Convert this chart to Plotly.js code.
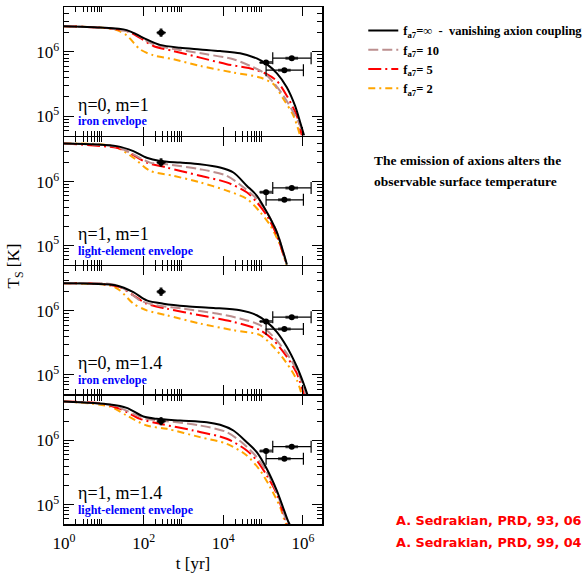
<!DOCTYPE html>
<html><head><meta charset="utf-8">
<script src="https://cdn.plot.ly/plotly-3.0.1.min.js"></script>
<style>html,body{margin:0;padding:0;background:#fff}#chart{width:585px;height:573px}</style>
</head><body><div id="chart"></div>
<script>
// Curves: pairs of [log10(t / yr), log10(Ts / K)]
// Panel 1: eta=0, m=1 (iron envelope)
const p1Inf = [[0,6.40],[0.905,6.38],[1.575,6.34],[1.993,6.22],[2.412,6.11],[2.915,6.066],[3.417,6.04],[3.92,6.014],[4.422,5.98],[4.841,5.90],[5.092,5.81],[5.343,5.67],[5.595,5.45],[5.804,5.16],[5.93,4.91],[6.03,4.70]];
const p1F10 = [[0,6.40],[0.905,6.38],[1.323,6.35],[1.742,6.30],[2.161,6.144],[2.58,6.067],[3.082,6.015],[3.585,5.964],[4.255,5.887],[4.673,5.784],[5.008,5.68],[5.26,5.526],[5.511,5.32],[5.762,5.062],[5.93,4.856],[6.013,4.70]];
const p1F5 = [[0,6.40],[0.905,6.38],[1.575,6.325],[1.91,6.22],[2.245,6.093],[2.747,6.015],[3.417,5.912],[4.087,5.81],[4.757,5.732],[5.092,5.655],[5.343,5.552],[5.595,5.32],[5.846,5.01],[5.972,4.70]];
const p1F2 = [[0,6.40],[0.905,6.38],[1.323,6.34],[1.575,6.258],[1.91,6.041],[2.245,5.948],[2.747,5.887],[3.417,5.784],[4.255,5.68],[4.925,5.603],[5.26,5.50],[5.511,5.268],[5.762,5.01],[5.93,4.70]];
// Panel 2: eta=1, m=1 (light-element envelope)
const p2Inf = [[0,6.598],[1.323,6.557],[1.742,6.479],[2.077,6.376],[2.412,6.325],[2.915,6.299],[3.417,6.273],[3.92,6.222],[4.255,6.144],[4.59,5.938],[4.841,5.784],[5.092,5.526],[5.343,5.216],[5.60,4.70]];
const p2F10 = [[0,6.598],[1.323,6.546],[1.742,6.428],[2.161,6.299],[2.58,6.273],[3.417,6.196],[4.087,6.093],[4.506,5.912],[4.841,5.732],[5.092,5.526],[5.343,5.216],[5.595,4.70]];
const p2F5 = [[0,6.598],[1.323,6.531],[1.575,6.479],[2.077,6.299],[2.58,6.222],[3.417,6.093],[4.087,5.99],[4.59,5.835],[4.841,5.68],[5.092,5.474],[5.343,5.165],[5.59,4.70]];
const p2F2 = [[0,6.598],[1.24,6.557],[1.742,6.376],[2.161,6.17],[2.747,6.093],[3.417,5.99],[4.087,5.861],[4.59,5.732],[4.925,5.526],[5.176,5.32],[5.427,5.01],[5.585,4.70]];
// Panel 3: eta=0, m=1.4 (iron envelope)
const p3Inf = [[0,6.435],[1.323,6.399],[1.742,6.295],[2.077,6.166],[2.496,6.114],[3.082,6.073],[3.752,6.047],[4.422,6.01],[4.841,5.933],[5.092,5.829],[5.343,5.674],[5.595,5.44],[5.846,5.13],[6.013,4.87],[6.114,4.689]];
const p3F10 = [[0,6.435],[1.24,6.415],[1.575,6.321],[1.91,6.166],[2.328,6.088],[2.998,6.036],[3.836,5.959],[4.422,5.881],[4.925,5.777],[5.26,5.596],[5.595,5.337],[5.846,5.078],[6.013,4.819],[6.08,4.689]];
const p3F5 = [[0,6.435],[0.905,6.425],[1.407,6.373],[1.742,6.244],[2.077,6.114],[2.58,6.036],[3.417,5.933],[4.255,5.829],[4.925,5.699],[5.26,5.544],[5.595,5.285],[5.846,5.026],[6.03,4.689]];
const p3F2 = [[0,6.435],[1.156,6.399],[1.407,6.321],[1.742,6.114],[2.077,6.01],[2.58,5.933],[3.417,5.803],[4.255,5.699],[4.925,5.622],[5.26,5.44],[5.595,5.181],[5.846,4.922],[5.972,4.689]];
// Panel 4: eta=1, m=1.4 (light-element envelope)
const p4Inf = [[0,6.606],[1.156,6.56],[1.575,6.508],[1.993,6.373],[2.328,6.337],[2.915,6.311],[3.585,6.285],[3.92,6.244],[4.255,6.155],[4.59,5.974],[4.841,5.819],[5.092,5.56],[5.343,5.223],[5.637,4.731],[5.68,4.68]];
const p4F10 = [[0,6.606],[1.24,6.544],[1.742,6.415],[2.077,6.337],[2.58,6.301],[3.417,6.233],[4.087,6.13],[4.506,5.948],[4.841,5.741],[5.092,5.508],[5.343,5.197],[5.595,4.731],[5.64,4.68]];
const p4F5 = [[0,6.606],[0.905,6.58],[1.407,6.492],[1.91,6.337],[2.412,6.259],[3.25,6.155],[4.087,6.026],[4.59,5.845],[4.841,5.689],[5.092,5.456],[5.343,5.171],[5.578,4.731],[5.62,4.68]];
const p4F2 = [[0,6.606],[1.156,6.528],[1.575,6.389],[2.077,6.233],[2.58,6.181],[3.417,6.052],[4.087,5.948],[4.59,5.767],[4.925,5.534],[5.176,5.275],[5.427,4.964],[5.553,4.731],[5.60,4.68]];

const panelCurves = [[p1Inf,p1F10,p1F5,p1F2],[p2Inf,p2F10,p2F5,p2F2],[p3Inf,p3F10,p3F5,p3F2],[p4Inf,p4F10,p4F5,p4F2]];
const panelLabels = ['η=0, m=1','η=1, m=1','η=0, m=1.4','η=1, m=1.4'];
const envelopeLabels = ['iron envelope','light-element envelope','iron envelope','light-element envelope'];
const seriesNames = ['f<sub>a7</sub>=∞\u00a0\u00a0-\u00a0\u00a0vanishing axion coupling','f<sub>a7</sub>= 10','f<sub>a7</sub>= 5','f<sub>a7</sub>= 2'];
const seriesColors = ['#000000','#bc8f8f','#ff0000','#ffa500'];
const seriesDash = ['solid','10px,4px','13px,4px,2px,4px','7px,4px,2px,4px'];

// Observed sources (age in yr, temperature in K)
const obsAge = [274, 1.19e5, 5.25e5, 3.43e5];
const obsAgeLow = [213, 8.1e4, 1.75e5, 1.19e5];
const obsAgeHigh = [359, 1.44e5, 1.61e6, 1.03e6];
const obsTemp = [2.0e6, 6.85e5, 8.0e5, 5.2e5];
const obsTempLow = [1.73e6, 6.85e5, 8.0e5, 5.2e5];
const obsTempHigh = [2.3e6, 6.85e5, 8.0e5, 5.2e5];
const obsCapped = [false, false, true, true];

// Axis ticks
const xMajor = [1, 100, 1e4, 1e6];
const xMajorText = ['10<sup>0</sup>','10<sup>2</sup>','10<sup>4</sup>','10<sup>6</sup>'];
const xMinor = [2,3,4,5,6,7,8,9,200,300,400,500,600,700,800,900,2e4,3e4,4e4,5e4,6e4,7e4,8e4,9e4];
const yMajor = [1e5, 1e6];
const yMajorText = ['10<sup>5</sup>','10<sup>6</sup>'];
const yMinor = [5e4,6e4,7e4,8e4,9e4,2e5,3e5,4e5,5e5,6e5,7e5,8e5,9e5,2e6,3e6,4e6,5e6];

// Citations (as visible in the original, cut at the right edge)
const citations = ['A. Sedrakian, PRD, 93, 06', 'A. Sedrakian, PRD, 99, 04'];

const SERIF = 'Liberation Serif, Times New Roman, serif';
const traces = [];
const layout = {
  width:585, height:573,
  margin:{l:64, r:263, t:7, b:49, autoexpand:false},
  paper_bgcolor:'#fff', plot_bgcolor:'#fff',
  font:{family:SERIF, color:'#000', size:16},
  showlegend:true,
  legend:{x:1.16, y:0.983, xanchor:'left', yanchor:'top', bgcolor:'rgba(0,0,0,0)',
          font:{family:SERIF, size:12.5, color:'#000'}, traceorder:'normal'},
  annotations:[]
};
const gap = 1.5 / 517;

for (let i = 0; i < 4; i++) {
  const k = i + 1;
  const xa = 'x' + k, ya = 'y' + k;
  // curves, drawn orange first so black is on top
  for (let s = 3; s >= 0; s--) {
    const pts = panelCurves[i][s];
    traces.push({
      type:'scatter', mode:'lines', xaxis:xa, yaxis:ya,
      x: pts.map(p => Math.pow(10, p[0])),
      y: pts.map(p => Math.pow(10, p[1])),
      name:'<b>' + seriesNames[s] + '</b>',
      legendrank: s + 1,
      showlegend: i === 0,
      line:{color:seriesColors[s], width:2, dash:seriesDash[s], shape:'spline', smoothing:0.8},
      hoverinfo:'skip'
    });
  }
  // observations with error bars
  [false, true].forEach(capped => {
    const idx = obsAge.map((_, j) => j).filter(j => obsCapped[j] === capped);
    traces.push({
      type:'scatter', mode:'markers', xaxis:xa, yaxis:ya, showlegend:false,
      x: idx.map(j => obsAge[j]), y: idx.map(j => obsTemp[j]),
      marker:{color:'#000', size:6, symbol:'circle'},
      error_x:{type:'data', symmetric:false, array: idx.map(j => obsAgeHigh[j]-obsAge[j]),
               arrayminus: idx.map(j => obsAge[j]-obsAgeLow[j]), color:'#000', thickness:1.2, width: capped ? 6 : 0},
      error_y:{type:'data', symmetric:false, array: idx.map(j => obsTempHigh[j]-obsTemp[j]),
               arrayminus: idx.map(j => obsTemp[j]-obsTempLow[j]), color:'#000', thickness:1.2, width:0,
               visible: !capped}
    });
  });
  traces.push({
    type:'scatter', mode:'markers', xaxis:xa, yaxis:ya, showlegend:false,
    x: obsAge, y: obsTemp,
    marker:{color:'#000', size: obsAge.map((_, j) => j === 0 ? 6 : 9),
            symbol: obsAge.map((_, j) => j === 0 ? 'cross-thin-open' : 'line-ew-open'),
            line:{color:'#000', width:3}}
  });

  const lo = (3 - i) * 0.25 + (i < 3 ? gap / 2 : 0);
  const hi = (4 - i) * 0.25 - (i > 0 ? gap / 2 : 0);
  layout['xaxis' + k] = {
    type:'log', range:[0, 6.48], domain:[0,1], anchor:ya,
    matches: k === 1 ? undefined : 'x',
    showline:true, linecolor:'#000', linewidth:1.5, mirror:'ticks',
    ticks:'inside', ticklen:9, tickwidth:1, tickcolor:'#000',
    tickmode:'array', tickvals:xMajor, ticktext:xMajorText,
    showticklabels: k === 4, ticklabelstandoff:3,
    tickfont:{family:SERIF, size:17, color:'#000'},
    minor:{tickmode:'array', tickvals:xMinor, ticks:'inside', ticklen:5, tickwidth:1, tickcolor:'#000', showgrid:false},
    showgrid:false, zeroline:false,
    title: k === 4 ? {text:'t [yr]', font:{family:SERIF, size:17, color:'#000'}, standoff:6} : undefined
  };
  layout['yaxis' + k] = {
    type:'log', range:[4.7, 6.7], domain:[lo, hi], anchor:xa,
    showline:true, linecolor:'#000', linewidth:1.5, mirror:'ticks',
    ticks:'inside', ticklen:10, tickwidth:1, tickcolor:'#000',
    tickmode:'array', tickvals:yMajor, ticktext:yMajorText,
    tickfont:{family:SERIF, size:17, color:'#000'},
    minor:{tickmode:'array', tickvals:yMinor, ticks:'inside', ticklen:5, tickwidth:1, tickcolor:'#000', showgrid:false},
    showgrid:false, zeroline:false
  };
  layout.annotations.push({
    xref: xa + ' domain', yref: ya + ' domain', x:0.045, y:0.24, xanchor:'left', yanchor:'middle',
    text: panelLabels[i], showarrow:false, font:{family:SERIF, size:18, color:'#000'}
  });
  layout.annotations.push({
    xref: xa + ' domain', yref: ya + ' domain', x:0.045, y:0.11, xanchor:'left', yanchor:'middle',
    text: '<b>' + envelopeLabels[i] + '</b>', showarrow:false, font:{family:SERIF, size:12, color:'#0000ff'}
  });
}

layout.annotations.push(
  {xref:'paper', yref:'paper', x:-0.19, y:0.5, xanchor:'center', yanchor:'middle', textangle:-90,
   text:'T<sub>S</sub> [K]', showarrow:false, font:{family:SERIF, size:17, color:'#000'}},
  {xref:'paper', yref:'paper', x:1.194, y:0.704, xanchor:'left', yanchor:'middle',
   text:'<b>The emission of axions alters the</b>', showarrow:false, font:{family:SERIF, size:13.5, color:'#000'}},
  {xref:'paper', yref:'paper', x:1.194, y:0.663, xanchor:'left', yanchor:'middle',
   text:'<b>observable surface temperature</b>', showarrow:false, font:{family:SERIF, size:13.5, color:'#000'}},
  {xref:'paper', yref:'paper', x:1.278, y:0.006, xanchor:'left', yanchor:'middle',
   text:'<b>' + citations[0] + '</b>', showarrow:false, font:{family:'DejaVu Sans, sans-serif', size:12.8, color:'#ff0000'}},
  {xref:'paper', yref:'paper', x:1.278, y:-0.035, xanchor:'left', yanchor:'middle',
   text:'<b>' + citations[1] + '</b>', showarrow:false, font:{family:'DejaVu Sans, sans-serif', size:12.8, color:'#ff0000'}}
);

Plotly.newPlot('chart', traces, layout, {displayModeBar:false, staticPlot:true});
</script></body></html>
